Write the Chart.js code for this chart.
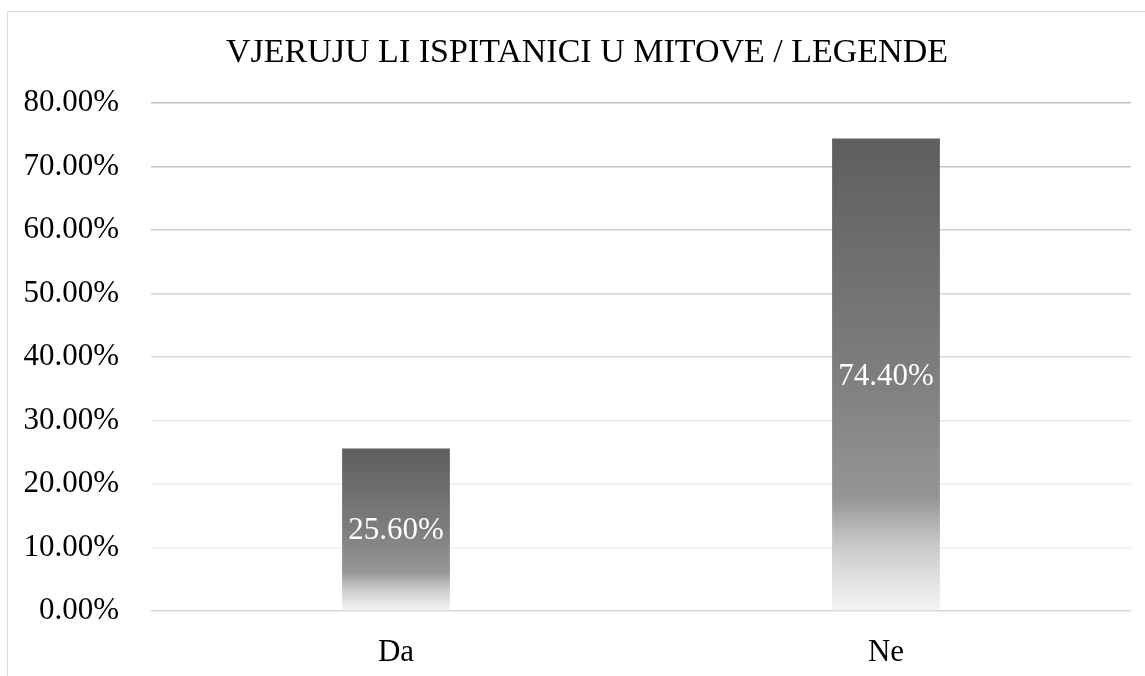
<!DOCTYPE html>
<html>
<head>
<meta charset="utf-8">
<script src="https://cdn.jsdelivr.net/npm/chart.js@4.4.1/dist/chart.umd.min.js"></script>
<style>
  html, body { margin: 0; padding: 0; background: #fff; }
  #wrap { position: relative; width: 1145px; height: 676px; overflow: hidden; }
  #frame { position: absolute; left: 7px; top: 11px; width: 1200px; height: 700px; border: 1px solid #d9d9d9; box-sizing: border-box; }
  canvas { position: absolute; left: 0; top: 0; }
</style>
</head>
<body>
<div id="wrap">
  <div id="frame"></div>
  <canvas id="chart" width="1145" height="676"></canvas>
</div>
<script>
// Podaci
const naslov = 'VJERUJU LI ISPITANICI U MITOVE / LEGENDE';
const kategorije = ['Da', 'Ne'];
const postoci = [25.6, 74.4];
const oznakeOsi = ['0.00%', '10.00%', '20.00%', '30.00%', '40.00%', '50.00%', '60.00%', '70.00%', '80.00%'];

const FONT = "'Liberation Serif', 'Times New Roman', serif";

// boje mreže, od dna prema vrhu
const bojeMreze = ['#d6d6d6', '#f0f0f0', '#ececec', '#e5e5e5', '#dcdcdc', '#d3d3d3', '#cbcbcb', '#c5c5c5', '#bdbdbd'];

// gradijent za svaki stupac posebno (tamno gore, bijelo dolje)
function gradijentStupca(ctx) {
    const chart = ctx.chart;
    if (!chart.chartArea) return '#777';
    const ys = chart.scales.y;
    const vrh = ys.getPixelForValue(ctx.raw);
    const dno = ys.getPixelForValue(0);
    const g = chart.ctx.createLinearGradient(0, vrh, 0, dno);
    g.addColorStop(0, '#5e5e5e');
    g.addColorStop(0.5, '#7e7e7e');
    g.addColorStop(0.76, '#959595');
    g.addColorStop(0.86, '#c9c9c9');
    g.addColorStop(0.94, '#e3e3e3');
    g.addColorStop(1, '#f5f5f5');
    return g;
}

// naslov - centriran na cijeli okvir grafikona (okvir ide i desno od slike)
const naslovPlugin = {
    id: 'naslov',
    afterDraw(chart) {
        const c = chart.ctx;
        c.save();
        c.font = '34px ' + FONT;
        c.fillStyle = '#000';
        c.textAlign = 'center';
        c.textBaseline = 'middle';
        c.fillText(naslov, 587, 53);
        c.restore();
    }
};

// oznake vrijednosti u sredini stupca
const oznakePlugin = {
    id: 'oznake',
    afterDatasetsDraw(chart) {
        const c = chart.ctx;
        const meta = chart.getDatasetMeta(0);
        c.save();
        c.font = '31px ' + FONT;
        c.fillStyle = '#ffffff';
        c.textAlign = 'center';
        c.textBaseline = 'middle';
        meta.data.forEach((bar, i) => {
            const y = (bar.y + bar.base) / 2 + 2;
            c.fillText(postoci[i].toFixed(2) + '%', bar.x, y);
        });
        c.restore();
    }
};

new Chart(document.getElementById('chart'), {
    type: 'bar',
    data: {
        labels: kategorije,
        datasets: [{
            data: postoci,
            backgroundColor: gradijentStupca,
            borderWidth: 0,
            barPercentage: 0.22,
            categoryPercentage: 1
        }]
    },
    options: {
        responsive: false,
        animation: false,
        layout: { padding: { left: 0, right: 14, top: 103, bottom: 0 } },
        plugins: {
            legend: { display: false },
            tooltip: { enabled: false },
            title: { display: false }
        },
        scales: {
            x: {
                afterFit(scale) { scale.height = 65; },
                grid: { display: false, drawTicks: false },
                border: { display: false },
                ticks: {
                    color: '#000',
                    font: { family: FONT, size: 31 },
                    padding: 23
                }
            },
            y: {
                min: 0,
                max: 80,
                afterFit(scale) { scale.width = 151; },
                border: { display: false },
                grid: {
                    drawTicks: false,
                    lineWidth: 1.5,
                    color: (ctx) => bojeMreze[ctx.index] || '#d9d9d9'
                },
                ticks: {
                    stepSize: 10,
                    color: '#000',
                    padding: 32,
                    font: { family: FONT, size: 31 },
                    callback: (v, i) => oznakeOsi[i]
                }
            }
        }
    },
    plugins: [oznakePlugin, naslovPlugin]
});
</script>
</body>
</html>
